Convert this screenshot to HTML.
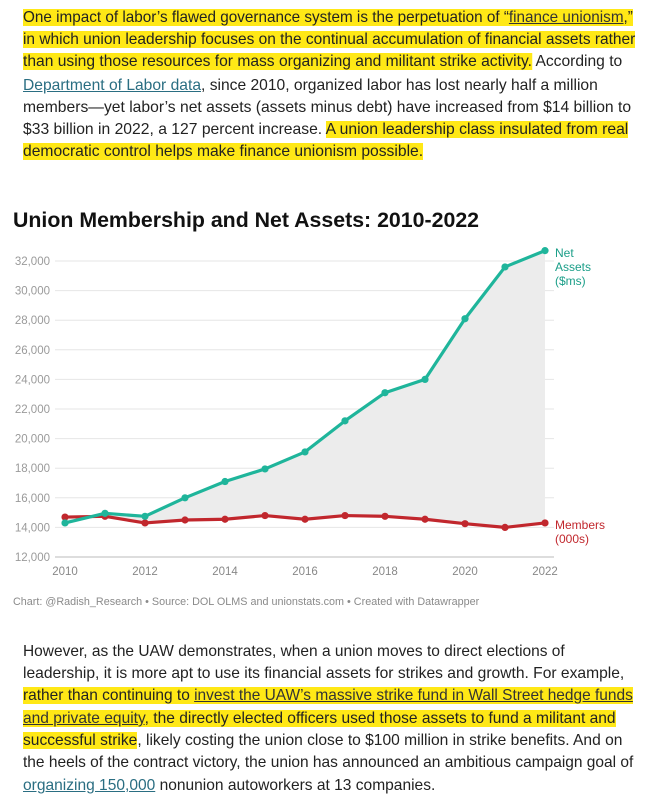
<!DOCTYPE html>
<html><head><meta charset="utf-8">
<style>
body{margin:0;width:658px;height:805px;background:#fff;position:relative;overflow:hidden;font-family:"Liberation Sans",sans-serif;}
.ln{position:absolute;left:23px;white-space:nowrap;font-size:16px;line-height:22px;color:#222;transform-origin:0 50%;}
.hl{background:#ffe816;}
a{color:#2a6e82;text-decoration:underline;}
.hl a{color:#333;}
</style></head><body>
<div>
<div class="ln" data-w="610" style="top:7px"><span class="hl">One impact of labor’s flawed governance system is the perpetuation of “<a>finance unionism</a>,”</span></div>
<div class="ln" data-w="612" style="top:29px"><span class="hl">in which union leadership focuses on the continual accumulation of financial assets rather</span></div>
<div class="ln" data-w="599" style="top:51px"><span class="hl">than using those resources for mass organizing and militant strike activity.</span> According to</div>
<div class="ln" data-w="575" style="top:75px"><a style="color:#2a6e82">Department of Labor data</a>, since 2010, organized labor has lost nearly half a million</div>
<div class="ln" data-w="608" style="top:97px">members—yet labor’s net assets (assets minus debt) have increased from $14 billion to</div>
<div class="ln" data-w="605" style="top:119px">$33 billion in 2022, a 127 percent increase. <span class="hl">A union leadership class insulated from real</span></div>
<div class="ln" data-w="400" style="top:141px"><span class="hl">democratic control helps make finance unionism possible.</span></div>
</div>

<div style="position:absolute;left:13px;top:209px;font-size:21px;font-weight:bold;color:#111;white-space:nowrap;transform-origin:0 50%" class="fit" data-w="466">Union Membership and Net Assets: 2010-2022</div>

<svg id="chart" width="658" height="805" style="position:absolute;left:0;top:0" xmlns="http://www.w3.org/2000/svg"></svg>

<div class="fit" data-w="466" style="position:absolute;left:13px;top:596px;font-size:11px;color:#8a8a8a;white-space:nowrap;transform-origin:0 50%">Chart: @Radish_Research • Source: DOL OLMS and unionstats.com • Created with Datawrapper</div>

<div>
<div class="ln" data-w="542" style="top:641px">However, as the UAW demonstrates, when a union moves to direct elections of</div>
<div class="ln" data-w="601" style="top:663px">leadership, it is more apt to use its financial assets for strikes and growth. For example,</div>
<div class="ln" data-w="610" style="top:685px"><span class="hl">rather than continuing to <a>invest the UAW’s massive strike fund in Wall Street hedge funds</a></span></div>
<div class="ln" data-w="593" style="top:708px"><span class="hl"><a>and private equity</a>, the directly elected officers used those assets to fund a militant and</span></div>
<div class="ln" data-w="599" style="top:730px"><span class="hl">successful strike</span>, likely costing the union close to $100 million in strike benefits. And on</div>
<div class="ln" data-w="610" style="top:752px">the heels of the contract victory, the union has announced an ambitious campaign goal of</div>
<div class="ln" data-w="412" style="top:775px"><a style="color:#2a6e82">organizing 150,000</a> nonunion autoworkers at 13 companies.</div>
</div>

<script>
const years=[2010,2011,2012,2013,2014,2015,2016,2017,2018,2019,2020,2021,2022];
const netAssets=[14300,14950,14750,16000,17100,17950,19100,21200,23100,24000,28100,31600,32700];
const members=[14700,14750,14300,14500,14550,14800,14550,14800,14750,14550,14250,14000,14300];
const yTicks=[12000,14000,16000,18000,20000,22000,24000,26000,28000,30000,32000];
const xTicks=[2010,2012,2014,2016,2018,2020,2022];

const NS="http://www.w3.org/2000/svg";
const svg=document.getElementById('chart');
const X=v=>65+(v-2010)*(545-65)/12;
const Y=v=>557-(v-12000)*(557-261)/20000;
function mk(t,a,p){const e=document.createElementNS(NS,t);for(const k in a)e.setAttribute(k,a[k]);(p||svg).appendChild(e);return e;}

yTicks.forEach(t=>{
  const g=mk('line',{x1:55,x2:554,y1:Y(t),y2:Y(t),stroke:t===12000?'#bbb':'#e6e6e6','stroke-width':1});
  
  
  const l=mk('text',{x:50,y:Y(t)+4,'text-anchor':'end','font-size':11.5,fill:'#9a9a9a','font-family':'Liberation Sans, sans-serif'});
  l.textContent=t.toLocaleString('en-US');
  
  
});
xTicks.forEach(t=>{
  const l=mk('text',{x:X(t),y:575,'text-anchor':'middle','font-size':11.5,fill:'#888','font-family':'Liberation Sans, sans-serif'});
  l.textContent=t;
  
  
});

// shaded area between series
let d='M'+years.map((y,i)=>X(y)+','+Y(netAssets[i])).join('L');
d+='L'+years.slice().reverse().map((y,i)=>X(y)+','+Y(members[members.length-1-i])).join('L')+'Z';
const area=mk('path',{d:d,fill:'#ececec'});



function series(vals,color,name){
  const p=mk('polyline',{points:years.map((y,i)=>X(y)+','+Y(vals[i])).join(' '),fill:'none',stroke:color,'stroke-width':3.2,'stroke-linejoin':'round'});
  
  
  years.forEach((y,i)=>{
    const c=mk('circle',{cx:X(y),cy:Y(vals[i]),r:3.6,fill:color});
    
    
  });
}
series(members,'#c1272d','members');
series(netAssets,'#1fb59b','net-assets');

function label(lines,y0,color,name){
  lines.forEach((s,i)=>{
    const t=mk('text',{x:555,y:y0+i*14,'font-size':12,fill:color,'font-family':'Liberation Sans, sans-serif'});
    t.textContent=s;
    
    
  });
}
label(['Net','Assets','($ms)'],257,'#1a9e88','net-assets-label');
label(['Members','(000s)'],529,'#c1272d','members-label');

document.querySelectorAll('.ln,.fit').forEach(el=>{
  const w=+el.dataset.w;const s=el.scrollWidth;
  if(s>0)el.style.transform='scaleX('+(w/s)+')';
});
</script>
</body></html>
